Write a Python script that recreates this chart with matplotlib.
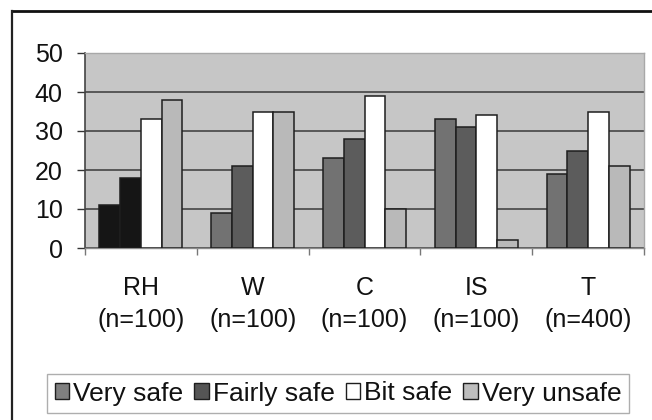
import matplotlib
matplotlib.use("Agg")
import matplotlib.pyplot as plt
from matplotlib.lines import Line2D
from matplotlib.patches import Patch
import numpy as np

plt.rcParams['font.family'] = ['Liberation Sans', 'DejaVu Sans']

# Survey data: perceived safety by group
categories = ["RH", "W", "C", "IS", "T"]
sample_sizes = ["n=100", "n=100", "n=100", "n=100", "n=400"]
series_names = ["Very safe", "Fairly safe", "Bit safe", "Very unsafe"]
very_safe = [11, 9, 23, 33, 19]
fairly_safe = [18, 21, 28, 31, 25]
bit_safe = [33, 35, 39, 34, 35]
very_unsafe = [38, 35, 10, 2, 21]
y_ticks = [0, 10, 20, 30, 40, 50]

series_values = [very_safe, fairly_safe, bit_safe, very_unsafe]
series_colors = ["#727272", "#5c5c5c", "#ffffff", "#b9b9b9"]
legend_colors = ["#808080", "#555555", "#ffffff", "#bdbdbd"]
# first group is printed in solid black ink for the two "safe" series
first_group_color = "#151515"

fig = plt.figure(figsize=(6.52, 4.20), dpi=100)
fig.patch.set_facecolor("white")
ax = fig.add_axes([85 / 652, 1 - 248 / 420, (644 - 85) / 652, (248 - 53) / 420])
ax.set_facecolor("#c6c6c6")

x = np.arange(len(categories))
bar_w = 0.186
offsets = (np.arange(len(series_names)) - 1.5) * bar_w
for i, (vals, col) in enumerate(zip(series_values, series_colors)):
    cols = [col] * len(vals)
    if i < 2:
        cols[0] = first_group_color
    ax.bar(x + offsets[i], vals, width=bar_w, color=cols,
           edgecolor="#1e1e1e", linewidth=1.1, zorder=3)

ax.set_xlim(-0.5, len(categories) - 0.5)
ax.set_ylim(0, 50)
ax.set_yticks(y_ticks)
ax.yaxis.grid(True, color="#3a3a3a", linewidth=1.1, zorder=1)
ax.set_axisbelow(True)

ax.set_xticks(x)
ax.set_xticklabels([f"{c}\n({n})" for c, n in zip(categories, sample_sizes)],
                   linespacing=1.45)
ax.set_xticks(np.arange(len(categories) + 1) - 0.5, minor=True)
ax.tick_params(axis="x", which="major", length=0, pad=20, labelsize=18,
               labelcolor="#111111")
ax.tick_params(axis="x", which="minor", length=5, width=1, color="#777777",
               direction="out")
ax.tick_params(axis="y", length=6, width=1, color="#333333", pad=10,
               labelsize=18, labelcolor="#111111")

for side in ["top", "right"]:
    ax.spines[side].set_color("#a8a8a8")
    ax.spines[side].set_linewidth(1.0)
ax.spines["left"].set_color("#444444")
ax.spines["left"].set_linewidth(1.2)
ax.spines["bottom"].set_color("#8a8a8a")
ax.spines["bottom"].set_linewidth(1.0)

# outer chart frame (top and left edges)
fig.add_artist(Line2D([12 / 652, 1.0], [1 - 11 / 420, 1 - 11 / 420],
                      color="#111111", linewidth=2.0))
fig.add_artist(Line2D([12 / 652, 12 / 652], [0.0, 1 - 11 / 420],
                      color="#222222", linewidth=1.6))

handles = [Patch(facecolor=c, edgecolor="#1e1e1e", linewidth=1.0)
           for c in legend_colors]
leg = fig.legend(handles, series_names, loc="center",
                 bbox_to_anchor=(338 / 652, 1 - 393.5 / 420), ncol=4,
                 fontsize=19, frameon=True, fancybox=False,
                 handlelength=0.55, handleheight=0.55, handletextpad=0.15,
                 columnspacing=0.42, borderpad=0.3, borderaxespad=0)
leg.get_frame().set_edgecolor("#9a9a9a")
leg.get_frame().set_linewidth(1.0)
for t in leg.get_texts():
    t.set_color("#111111")

fig.savefig("out.png", dpi=100)
